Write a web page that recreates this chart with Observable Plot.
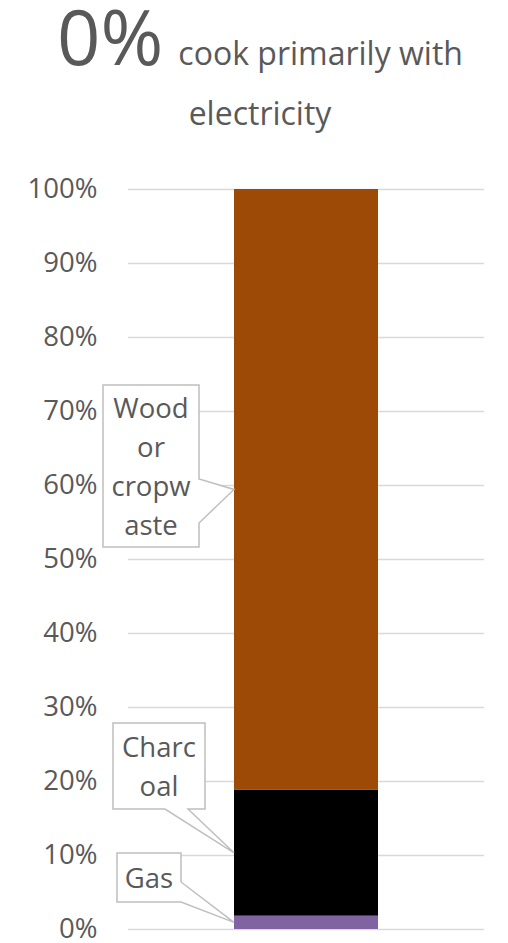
<!DOCTYPE html>
<html><head><meta charset="utf-8">
<script src="https://cdn.jsdelivr.net/npm/d3@7"></script>
<script src="https://cdn.jsdelivr.net/npm/@observablehq/plot@0.6"></script>
<style>
body{margin:0;background:#fff;font-family:"Open Sans",sans-serif;color:#595959;}
#title{position:relative;width:508px;height:160px;}
#l1{position:absolute;left:12px;right:0;top:0;display:flex;justify-content:center;align-items:baseline;}
#l1 .big{font-size:76px;line-height:72px;}
#l1 .small{font-size:32px;line-height:32px;margin-left:15px;}
#l2{position:absolute;left:12px;right:0;top:97px;text-align:center;font-size:32px;line-height:32px;}
#chart svg{display:block;}
</style></head><body>
<div id="title"><div id="l1"><span class="big"></span><span class="small"></span></div><div id="l2"></div></div>
<div id="chart"></div>
<script>
// ---- data ----
const categories = ["Households"];
const series = ["Gas", "Charcoal", "Wood or cropwaste"];
const values = [1.8, 17.0, 81.2];
const seriesColors = ["#8064A2", "#000000", "#9C4A06"];
const yTicks = [0, 10, 20, 30, 40, 50, 60, 70, 80, 90, 100];
const calloutLines = [["Gas"], ["Charc", "oal"], ["Wood", "or", "cropw", "aste"]];
const titleValue = "0%";
const titleLine1 = "cook primarily with";
const titleLine2 = "electricity";

// ---- layout (pixels, svg coords) ----
const calloutLayout = [
  {x0: 117, x1: 181, y0: 693, y1: 742, side: "right", a: 722, b: 742},
  {x0: 113, x1: 205, y0: 563, y1: 649, side: "bottom", a: 165, b: 188},
  {x0: 103, x1: 199, y0: 225, y1: 387, side: "right", a: 319, b: 363}
];

document.querySelector("#l1 .big").textContent = titleValue;
document.querySelector("#l1 .small").textContent = titleLine1;
document.querySelector("#l2").textContent = titleLine2;

const table = series.map((s, i) => ({cat: categories[0], series: s, value: values[i]}));

function callouts(index, scales) {
  const g = d3.create("svg:g");
  const ax = scales.x(categories[0]);
  let cum = 0;
  series.forEach((s, i) => {
    const mid = cum + values[i] / 2; cum += values[i];
    const ay = scales.y(mid);
    const L = calloutLayout[i];
    let d;
    if (L.side === "right") {
      d = `M${L.x0},${L.y0}H${L.x1}V${L.a}L${ax},${ay}L${L.x1},${L.b}V${L.y1}H${L.x0}Z`;
    } else {
      d = `M${L.x0},${L.y0}H${L.x1}V${L.y1}H${L.b}L${ax},${ay}L${L.a},${L.y1}H${L.x0}Z`;
    }
    g.append("path").attr("d", d).attr("fill", "#fff").attr("stroke", "#bfbfbf").attr("stroke-width", 1.5);
    const lines = calloutLines[i];
    const cx = (L.x0 + L.x1) / 2, cy = (L.y0 + L.y1) / 2;
    lines.forEach((t, j) => {
      g.append("text").attr("x", cx).attr("y", cy + (j - (lines.length - 1) / 2) * 39)
        .attr("dy", "0.38em").attr("text-anchor", "middle")
        .attr("fill", "#595959").attr("font-size", 27.5).attr("font-family", "Open Sans")
        .text(t);
    });
  });
  return g.node();
}

const plot = Plot.plot({
  width: 508,
  height: 783,
  marginTop: 29,
  marginBottom: 14,
  marginLeft: 128,
  marginRight: 24,
  style: {fontFamily: "Open Sans", fontSize: "27.5px", color: "#595959", background: "#fff"},
  x: {domain: categories, padding: 0.424, axis: null},
  y: {domain: [0, 100], ticks: yTicks, tickFormat: d => d + "%", tickSize: 0, tickPadding: 31, label: null},
  color: {domain: series, range: seriesColors},
  marks: [
    Plot.gridY(yTicks, {stroke: "#d9d9d9", strokeOpacity: 1, strokeWidth: 1.5}),
    Plot.barY(table, {x: "cat", y: "value", fill: "series", order: null}),
    callouts
  ]
});
document.getElementById("chart").appendChild(plot);
</script>
</body></html>
